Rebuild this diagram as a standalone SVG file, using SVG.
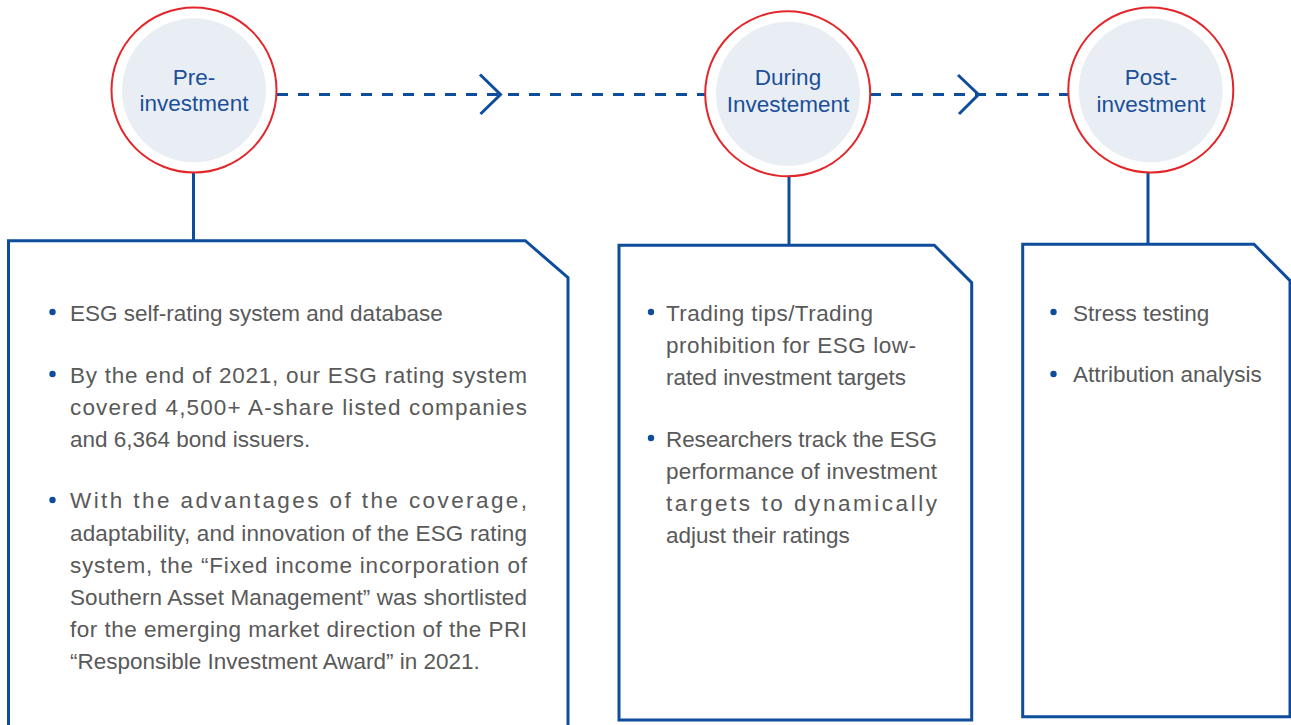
<svg xmlns="http://www.w3.org/2000/svg" width="1291" height="725" viewBox="0 0 1291 725">
<style>
.ring{fill:#ffffff;stroke:#e3262a;stroke-width:2}
.core{fill:#e9eef5}
.lbl{font-family:"Liberation Sans",Arial,sans-serif;font-size:22.5px;fill:#1c4f98;text-anchor:middle}
.box{fill:#ffffff;stroke:#0e4d9c;stroke-width:3;stroke-linejoin:miter}
.txt{font-family:"Liberation Sans",Arial,sans-serif;font-size:22.5px;fill:#595959}
.dot{fill:#0e4d9c}
.dash{stroke:#0e4d9c;stroke-width:3.2;stroke-dasharray:11 10;fill:none}
.chev{stroke:#0e4d9c;stroke-width:3;fill:none}
.stem{stroke:#0e4d9c;stroke-width:3;fill:none}
</style>
<rect width="1291" height="725" fill="#ffffff"/>
<g id="connectors">
<line class="dash" x1="277" y1="94.5" x2="705" y2="94.5"/>
<polyline class="chev" points="480,74.5 500.5,94.5 480.5,114"/>
<line class="dash" x1="870" y1="94.5" x2="1068" y2="94.5"/>
<polyline class="chev" points="958,75 978.5,94.5 959,114"/>
<line class="stem" x1="193.5" y1="173" x2="193.5" y2="241"/>
<line class="stem" x1="789" y1="176" x2="789" y2="245"/>
<line class="stem" x1="1148" y1="173" x2="1148" y2="244"/>
</g>
<g id="node-pre">
<circle class="ring" cx="194" cy="90" r="82.5"/>
<circle class="core" cx="194" cy="90.3" r="72"/>
<text class="lbl" x="194" y="85">Pre-</text>
<text class="lbl" x="194" y="111">investment</text>
</g>
<g id="node-during">
<circle class="ring" cx="787.7" cy="93.8" r="82.5"/>
<circle class="core" cx="788" cy="93.8" r="72"/>
<text class="lbl" x="788" y="85">During</text>
<text class="lbl" x="788" y="111.5">Investement</text>
</g>
<g id="node-post">
<circle class="ring" cx="1150.8" cy="90" r="82.5"/>
<circle class="core" cx="1150.7" cy="90.3" r="72"/>
<text class="lbl" x="1151" y="85">Post-</text>
<text class="lbl" x="1151" y="111.5">investment</text>
</g>
<g id="box-pre">
<path class="box" d="M8.5,745 L8.5,240.7 L525.3,240.7 L568,277.7 L568,745"/>
<circle class="dot" cx="52.5" cy="312" r="3.2"/>
<text class="txt" x="70" y="321">ESG self-rating system and database</text>
<circle class="dot" cx="52.5" cy="374" r="3.2"/>
<text class="txt" x="70" y="383" textLength="457" lengthAdjust="spacing">By the end of 2021, our ESG rating system</text>
<text class="txt" x="70" y="415" textLength="457" lengthAdjust="spacing">covered 4,500+ A-share listed companies</text>
<text class="txt" x="70" y="447">and 6,364 bond issuers.</text>
<circle class="dot" cx="52.5" cy="500" r="3.2"/>
<text class="txt" x="70" y="508" textLength="457" lengthAdjust="spacing">With the advantages of the coverage,</text>
<text class="txt" x="70" y="540.5" textLength="457" lengthAdjust="spacing">adaptability, and innovation of the ESG rating</text>
<text class="txt" x="70" y="572.5" textLength="457" lengthAdjust="spacing">system, the “Fixed income incorporation of</text>
<text class="txt" x="70" y="604.5" textLength="457" lengthAdjust="spacing">Southern Asset Management” was shortlisted</text>
<text class="txt" x="70" y="637" textLength="457" lengthAdjust="spacing">for the emerging market direction of the PRI</text>
<text class="txt" x="70" y="669">“Responsible Investment Award” in 2021.</text>
</g>
<g id="box-during">
<path class="box" d="M619,720 L619,245.3 L934.3,245.3 L971.7,282.7 L971.7,720 Z"/>
<circle class="dot" cx="651" cy="312" r="3.2"/>
<text class="txt" x="666" y="321" textLength="207" lengthAdjust="spacing">Trading tips/Trading</text>
<text class="txt" x="666" y="353" textLength="250" lengthAdjust="spacing">prohibition for ESG low-</text>
<text class="txt" x="666" y="385" textLength="240" lengthAdjust="spacing">rated investment targets</text>
<circle class="dot" cx="651" cy="438" r="3.2"/>
<text class="txt" x="666" y="447" textLength="271" lengthAdjust="spacing">Researchers track the ESG</text>
<text class="txt" x="666" y="479" textLength="271" lengthAdjust="spacing">performance of investment</text>
<text class="txt" x="666" y="510.5" textLength="271" lengthAdjust="spacing">targets to dynamically</text>
<text class="txt" x="666" y="542.5">adjust their ratings</text>
</g>
<g id="box-post">
<path class="box" d="M1022.7,716.7 L1022.7,244.3 L1254,244.3 L1290,280.7 L1290,716.7 Z"/>
<circle class="dot" cx="1053.5" cy="312" r="3.2"/>
<text class="txt" x="1073" y="320.5">Stress testing</text>
<circle class="dot" cx="1053.5" cy="374" r="3.2"/>
<text class="txt" x="1073" y="382">Attribution analysis</text>
</g>
</svg>
